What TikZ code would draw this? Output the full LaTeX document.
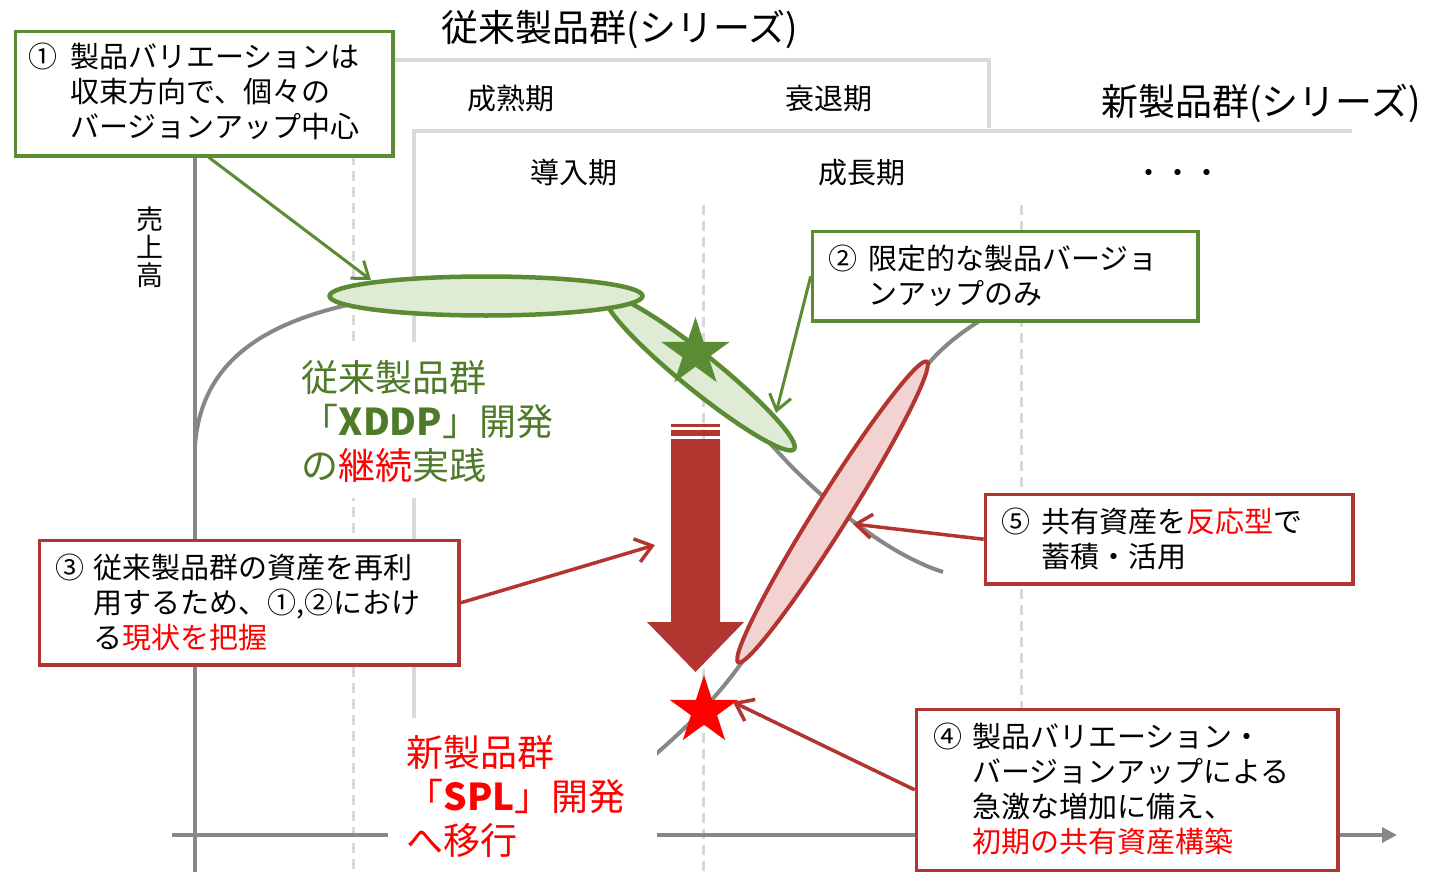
\documentclass[tikz,border=0pt]{standalone}
\usepackage{fontspec}
\setmainfont{Noto Sans CJK JP}
\usetikzlibrary{arrows.meta,shapes.geometric}
\definecolor{axgray}{HTML}{878787}
\definecolor{ltgray}{HTML}{D9D9D9}
\definecolor{olivegreen}{HTML}{5B8C34}
\definecolor{greenfill}{HTML}{DFEBD4}
\definecolor{textgreen}{HTML}{4F7A28}
\definecolor{darkred}{HTML}{B3352F}
\definecolor{pinkfill}{HTML}{F3D3D2}
\definecolor{purered}{HTML}{FF0000}
\newcommand{\fsz}[2]{\fontsize{#1}{#2}\selectfont}
\newcommand{\linestack}[2]{\vtop{\baselineskip=#1pt\lineskiplimit=-100pt\lineskip=0pt\halign{##\hfil\cr #2\crcr}}}
\begin{document}
\begin{tikzpicture}[x=1pt,y=-1pt,
  axisline/.style={draw=axgray,line width=3.5pt},
  curveline/.style={draw=axgray,line width=4pt},
  bracketline/.style={draw=ltgray,line width=4pt},
  dashline/.style={draw=ltgray,line width=3pt,dash pattern=on 10pt off 6pt},
  gbox/.style={rectangle,draw=olivegreen,line width=3.5pt,fill=white,inner sep=0pt,anchor=north west},
  rbox/.style={rectangle,draw=darkred,line width=3.5pt,fill=white,inner sep=0pt,anchor=north west},
  boxtext/.style={anchor=base west,inner sep=0pt,font=\fsz{29}{35}},
  phase/.style={anchor=base,inner sep=0pt,font=\fsz{29}{35}},
  titletext/.style={anchor=base,inner sep=0pt,font=\fsz{37}{44}},
  bigtext/.style={anchor=base west,inner sep=0pt,font=\fsz{37}{44}},
  gconn/.style={draw=olivegreen,line width=3pt,-{Straight Barb[length=15pt,width=22pt]}},
  rconn/.style={draw=darkred,line width=3.5pt,-{Straight Barb[length=16pt,width=24pt]}},
  gell/.style={draw=olivegreen,fill=greenfill,line width=4.5pt},
  rell/.style={draw=darkred,fill=pinkfill,line width=4pt},
  starmark/.style={star,star points=5,star point ratio=2.618,minimum size=72pt,inner sep=0pt}
]
\useasboundingbox (0,0) rectangle (1429,872);
\fill[white] (0,0) rectangle (1429,872);

% brackets of the product series
\draw[bracketline] (195,60) -- (989,60) -- (989,128);
\draw[bracketline] (1352,131) -- (414,131) -- (414,718);

% dashed phase separators
\draw[dashline] (353,155) -- (353,872);
\draw[dashline] (703,205) -- (703,872);
\draw[dashline] (1021,205) -- (1021,872);

% axes
\coordinate (yaxtop) at (195,155);
\coordinate (yaxbot) at (195,872);
\draw[axisline] (yaxtop) -- (yaxbot);
\coordinate (xaxl) at (172,835);
\coordinate (xaxr) at (1397,835);
\draw[axisline,-{Triangle[length=15pt,width=15pt]}] (xaxl) -- (xaxr);

% life-cycle curves
\draw[curveline] (195,445) .. controls (203,345) and (290,300) .. (470,289)
  .. controls (560,289) and (600,292) .. (640,318)
  .. controls (680,348) and (730,400) .. (790,465)
  .. controls (850,525) and (900,558) .. (943,572);
\draw[curveline] (600,800) .. controls (650,760) and (700,720) .. (740,665)
  .. controls (800,582) and (870,445) .. (925,368)
  .. controls (945,342) and (975,322) .. (1012,302);

% white backgrounds of the large texts
\fill[white] (300,342) rectangle (560,498);
\fill[white] (388,718) rectangle (657,872);

% titles and phase labels
\node[titletext] (ttlold) at (620,42) {従来製品群(シリーズ)};
\node[titletext] (ttlnew) at (1261,116) {新製品群(シリーズ)};
\node[phase] (ph1) at (511,110) {成熟期};
\node[phase] (ph2) at (829,110) {衰退期};
\node[phase] (ph3) at (574,183) {導入期};
\node[phase] (ph4) at (862,183) {成長期};
\node[phase] (ph5) at (1178,183) {・・・};
\node[anchor=base,inner sep=0pt,font=\fsz{27}{28}] (ylab) at (150,229) {\linestack{28}{売\cr 上\cr 高}};

% large texts
\node[bigtext,text=textgreen] (xddp) at (301.5,391) {\linestack{44}{従来製品群\cr 「\textbf{XDDP}」開発\cr の\textcolor{purered}{継続}実践}};
\node[bigtext,text=purered] (spl) at (406.5,766) {\linestack{44}{新製品群\cr 「\textbf{SPL}」開発\cr へ移行}};

% green ellipses and star
\draw[gell, rotate around={-39:(700,373)}] (700,373) ellipse [x radius=121pt, y radius=18pt];
\draw[gell] (486,296) ellipse [x radius=156.5pt, y radius=19.5pt];
\node[starmark,fill=olivegreen] (gstar) at (695.5,353) {};

% red block arrow
\fill[darkred] (671,423.5) rectangle (720,426.5);
\fill[darkred] (671,430) rectangle (720,436);
\fill[darkred] (671,439) -- (720,439) -- (720,622) -- (744,622) -- (695.5,672) -- (647,622) -- (671,622) -- cycle;

% red ellipse and star
\draw[rell, rotate around={57.9:(832.5,512)}] (832.5,512) ellipse [x radius=177.5pt, y radius=16.5pt];
\node[starmark,fill=purered] (rstar) at (704,711) {};

% boxes
\node[gbox,minimum width=377.5pt,minimum height=124pt] (box1) at (13.5,30) {};
\node[gbox,minimum width=385.6pt,minimum height=89.6pt] (box2) at (810.7,229.7) {};
\node[rbox,minimum width=419.6pt,minimum height=124.6pt] (box3) at (37.7,538.7) {};
\node[rbox,minimum width=367.6pt,minimum height=89.6pt] (box5) at (983.7,492.7) {};
\node[rbox,minimum width=421.6pt,minimum height=160.8pt] (box4) at (914.7,707.7) {};

\node[boxtext] (t1) at (28.5,68) {①\hspace{12.5pt}\linestack{35}{製品バリエーションは\cr 収束方向で、個々の\cr バージョンアップ中心}};
\node[boxtext] (t2) at (828.5,269) {②\hspace{10.5pt}\linestack{35}{限定的な製品バージョ\cr ンアップのみ}};
\node[boxtext] (t3) at (55.5,578) {③\hspace{8.5pt}\linestack{35}{従来製品群の資産を再利\cr 用するため、①,②におけ\cr る\textcolor{purered}{現状を把握}}};
\node[boxtext] (t5) at (1001.5,532) {⑤\hspace{10.5pt}\linestack{35}{共有資産を\textcolor{purered}{反応型}で\cr 蓄積・活用}};
\node[boxtext] (t4) at (933.5,747) {④\hspace{9.5pt}\linestack{35}{製品バリエーション・\cr バージョンアップによる\cr 急激な増加に備え、\cr \textcolor{purered}{初期の共有資産構築}}};

% connectors
\coordinate (tip1) at (371,280);
\coordinate (tip2) at (776,413);
\coordinate (tip3) at (655,545);
\coordinate (tip5) at (853,524);
\coordinate (tip4) at (733,702);
\draw[gconn] ([xshift=5pt]box1.south) -- (tip1);
\draw[gconn] (box2.west) -- (tip2);
\draw[rconn] (box3.east) -- (tip3);
\draw[rconn] (box5.west) -- (tip5);
\draw[rconn] (box4.west) -- (tip4);
\end{tikzpicture}
\end{document}
